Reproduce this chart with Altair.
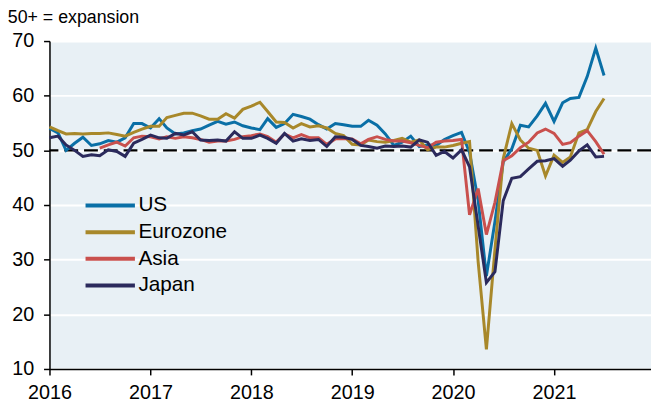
import altair as alt
import pandas as pd

FONT = "Liberation Sans"

# Composite PMIs, monthly Dec 2015 .. Jun 2021 (plotted at month end = first day of next month)
start = "2016-01-01"
n_months = 67

series_names = ["US", "Eurozone", "Asia", "Japan"]
series_colors = ["#0a6fa6", "#a8882a", "#c9504d", "#2b2a5c"]

us = [54.0, 53.2, 50.0, 51.3, 52.4, 50.9, 51.2, 51.8, 51.5, 52.3, 54.9, 54.9, 54.1,
      55.8, 54.1, 53.0, 53.2, 53.6, 53.9, 54.6, 55.3, 54.8, 55.2, 54.5, 54.1,
      53.8, 55.8, 54.2, 54.9, 56.6, 56.2, 55.7, 54.7, 53.9, 54.9, 54.7, 54.4,
      54.4, 55.5, 54.6, 53.0, 50.9, 51.5, 52.6, 50.7, 51.0, 50.9, 52.0, 52.7,
      53.3, 49.6, 40.9, 27.0, 37.0, 47.9, 50.3, 54.6, 54.3, 56.3, 58.6, 55.3,
      58.7, 59.5, 59.7, 63.5, 68.7, 63.7]

eurozone = [54.3, 53.6, 53.0, 53.1, 53.0, 53.1, 53.1, 53.2, 52.9, 52.6, 53.3, 53.9, 54.4,
            54.4, 56.0, 56.4, 56.8, 56.8, 56.3, 55.7, 55.7, 56.7, 55.9, 57.5, 58.1,
            58.8, 57.1, 55.2, 55.1, 54.1, 54.9, 54.3, 54.5, 54.1, 53.1, 52.7, 51.1,
            51.0, 51.9, 51.6, 51.5, 51.8, 52.2, 51.5, 51.9, 50.1, 50.6, 50.6, 50.9,
            51.3, 51.6, 29.7, 13.6, 31.9, 48.5, 54.9, 51.9, 50.4, 50.0, 45.3, 49.1,
            47.8, 48.8, 53.2, 53.8, 57.1, 59.5]

asia_start = 6
asia = [50.4, 51.0, 51.5, 50.8, 52.3, 52.6, 52.5,
        52.1, 52.5, 52.2, 52.5, 52.3, 52.0, 51.5, 51.7, 51.7, 52.0, 52.5, 52.7,
        53.0, 52.5, 51.5, 53.0, 52.3, 52.9, 52.3, 52.3, 51.1, 52.1, 52.1, 52.1,
        51.2, 52.0, 52.5, 52.0, 51.7, 51.7, 51.4, 50.9, 50.5, 51.5, 51.7, 51.8,
        52.0, 38.2, 43.0, 34.6, 40.5, 48.1, 49.0, 50.5, 51.5, 53.2, 53.9, 53.1,
        51.1, 51.4, 52.6, 53.6, 51.6, 49.3]

japan = [52.3, 52.6, 51.0, 50.0, 48.9, 49.2, 49.0, 50.1, 49.8, 48.9, 51.3, 52.0, 52.8,
         52.3, 52.2, 53.1, 52.8, 53.4, 51.9, 51.8, 51.9, 51.7, 53.4, 52.2, 52.2,
         52.8, 52.2, 51.3, 53.1, 51.7, 52.1, 51.8, 52.0, 50.7, 52.5, 52.4, 52.0,
         50.9, 50.7, 50.4, 50.8, 50.7, 50.8, 50.6, 51.9, 51.5, 49.1, 49.8, 48.6,
         50.1, 47.0, 36.2, 25.8, 27.8, 40.8, 44.9, 45.2, 46.6, 48.0, 48.1, 48.5,
         47.1, 48.2, 49.9, 51.0, 48.8, 48.9]

year_ticks = [2016, 2017, 2018, 2019, 2020, 2021]
y_ticks = [10, 20, 30, 40, 50, 60, 70]
expansion_level = [50]
subtitle = "50+ = expansion"

dates = pd.date_range(start, periods=n_months, freq="MS")
rows = []
for name, vals, off in [("US", us, 0), ("Eurozone", eurozone, 0), ("Asia", asia, asia_start), ("Japan", japan, 0)]:
    for k, v in enumerate(vals):
        rows.append({"date": dates[off + k].strftime("%Y-%m-%d"), "series": name, "value": v})
df = pd.DataFrame(rows)

y_scale = alt.Scale(domain=[10, 70], nice=False, zero=False)

x_enc = alt.X("date:T",
              scale=alt.Scale(domain=["2016-01-01", "2021-12-18"]),
              axis=alt.Axis(values=[alt.DateTime(year=y, month=1, date=1) for y in year_ticks],
                            format="%Y", title=None, grid=False, tickSize=6, labelPadding=8,
                            labelFlush=False))
y_enc = alt.Y("value:Q", scale=y_scale,
              axis=alt.Axis(values=y_ticks, title=None, grid=True, gridColor="white",
                            gridWidth=2, tickSize=6, labelPadding=10))
color_enc = alt.Color("series:N",
                      scale=alt.Scale(domain=series_names, range=series_colors),
                      legend=alt.Legend(orient="none", legendX=51, legendY=156, title=None,
                                        symbolType="M-4,0H4", symbolSize=156.25,
                                        symbolStrokeWidth=4, labelFontSize=21,
                                        labelOffset=18, rowPadding=5, padding=0,
                                        labelFont=FONT, labelColor="black"))

base = alt.Chart(df).mark_line(strokeWidth=3).encode(x=x_enc, y=y_enc, color=color_enc)
lines = [base.transform_filter(alt.datum.series == n) for n in series_names]

rule = alt.Chart(pd.DataFrame({"value": expansion_level})).mark_rule(
    color="black", strokeDash=[14, 6], strokeWidth=2.5).encode(
    y=alt.Y("value:Q", scale=y_scale))

chart = alt.layer(rule, *lines).properties(
    width=609, height=332,
    autosize=alt.AutoSizeParams(type="none"),
    padding={"left": 42, "top": 31, "right": 0, "bottom": 34},
    title=alt.Title(subtitle, anchor="start", frame="bounds", fontSize=18,
                    fontWeight="normal", font=FONT, color="black", offset=4, dx=-4),
).configure_view(fill="#e8f0f5", stroke=None).configure_axis(
    labelFont=FONT, labelFontSize=20, labelColor="black",
    domainColor="black", domainWidth=1.5, tickColor="black", tickWidth=1.5,
)

chart.save("out.html", embed_options={"renderer": "svg", "actions": False})
